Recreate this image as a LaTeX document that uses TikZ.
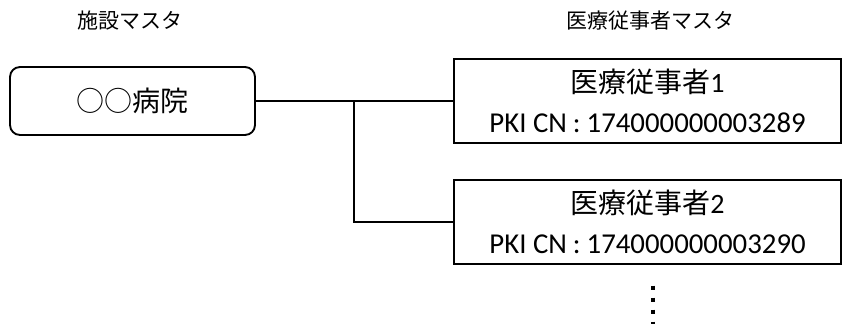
\documentclass[tikz,border=0pt]{standalone}
\usepackage{fontspec}
\setmainfont{Carlito}
\newfontfamily\jp{Noto Sans CJK JP}
\usetikzlibrary{positioning}

\begin{document}
\begin{tikzpicture}[x = 0.75pt, y = -0.75pt,
    every node/.style = {inner sep = 0pt},
    mastertitle/.style = {font = \jp\fontsize{15.75}{18}\selectfont},
    facilitybox/.style = {draw, line width = 1.4pt, rounded corners = 7.5pt,
      minimum width = 183.75pt, minimum height = 51pt,
      font = \jp\fontsize{21}{24}\selectfont},
    staffbox/.style = {draw, line width = 1.4pt,
      minimum width = 290.25pt, minimum height = 63pt, align = center,
      font = \fontsize{21}{30}\selectfont},
    link/.style = {line width = 1.1pt}]
      \useasboundingbox (0, 0) rectangle (842, 324);
      \node [mastertitle] (facilitytitle) at (130, 21) {施設マスタ};
      \node [mastertitle] (stafftitle) at (650, 21) {医療従事者マスタ};
      \node [facilitybox] (hospital) at (132.5, 101) {○○病院};
      \node [staffbox] (staffA) at (647.5, 101) {{\jp 医療従事者}1\\{\fontsize{21.6}{30}\selectfont PKI CN\hspace{4.5pt}:\hspace{4.5pt}174000000003289}};
      \node [staffbox] (staffB) at (647.5, 222) {{\jp 医療従事者}2\\{\fontsize{21.6}{30}\selectfont PKI CN\hspace{4.5pt}:\hspace{4.5pt}174000000003290}};
      \coordinate (branch) at (354, 101);
      \coordinate (moretop) at (653, 285.5);
      \coordinate (morebottom) at (653, 330);
      \draw [link] (hospital.east) -- (staffA.west);
      \draw [link] (branch) |- (staffB.west);
      \draw [line width = 3.6pt, dash pattern = on 3.6pt off 5.4pt] (moretop) -- (morebottom);
    \end{tikzpicture}
\end{document}
